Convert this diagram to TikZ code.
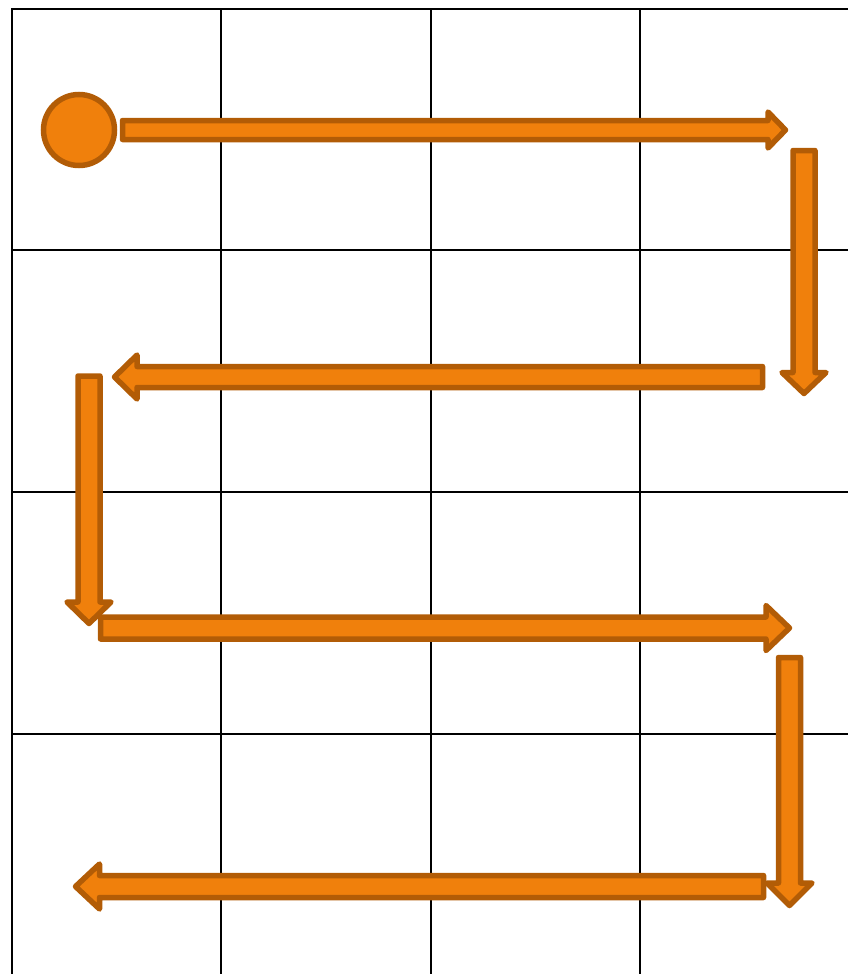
\documentclass[tikz,border=0pt]{standalone}
\definecolor{arrfill}{RGB}{240,128,12}
\definecolor{arrline}{RGB}{178,92,6}
\begin{document}
\begin{tikzpicture}[x=1pt,y=-1pt,
  gridline/.style={line width=2.7pt,black},
  blockarrow/.style={fill=arrfill,draw=arrline,line width=5.5pt,line join=round},
  startdot/.style={circle,fill=arrfill,draw=arrline,line width=5.5pt,minimum size=71pt,inner sep=0pt}]
\useasboundingbox (0,0) rectangle (848,974);
% grid
\draw[gridline] (849,9) -- (12,9) -- (12,975);
\foreach \x in {221,431,640} \draw[gridline] (\x,9) -- (\x,975);
\foreach \y in {250,492,734} \draw[gridline] (12,\y) -- (849,\y);
% arrows
\draw[blockarrow] (122.5,120.5) -- (768,120.5) -- (768,112) -- (785.5,130) -- (768,148) -- (768,139.5) -- (122.5,139.5) -- cycle;
\draw[blockarrow] (793,150.5) -- (815,150.5) -- (815,372.5) -- (826,372.5) -- (804,393.5) -- (782,372.5) -- (793,372.5) -- cycle;
\draw[blockarrow] (762.5,366.5) -- (137,366.5) -- (137,355) -- (114.5,377) -- (137,399) -- (137,387.5) -- (762.5,387.5) -- cycle;
\draw[blockarrow] (78,376) -- (100,376) -- (100,602) -- (111,602) -- (89,623.5) -- (67,602) -- (78,602) -- cycle;
\draw[blockarrow] (100.5,617) -- (766,617) -- (766,605.5) -- (789.5,628) -- (766,650.5) -- (766,639) -- (100.5,639) -- cycle;
\draw[blockarrow] (778.5,657.5) -- (800.5,657.5) -- (800.5,883) -- (812,883) -- (789.5,905.5) -- (767,883) -- (778.5,883) -- cycle;
\draw[blockarrow] (763.5,875.5) -- (99.5,875.5) -- (99.5,864) -- (75.5,886.5) -- (99.5,909) -- (99.5,897.5) -- (763.5,897.5) -- cycle;
% start
\node[startdot] (start) at (79,130) {};
\end{tikzpicture}
\end{document}
